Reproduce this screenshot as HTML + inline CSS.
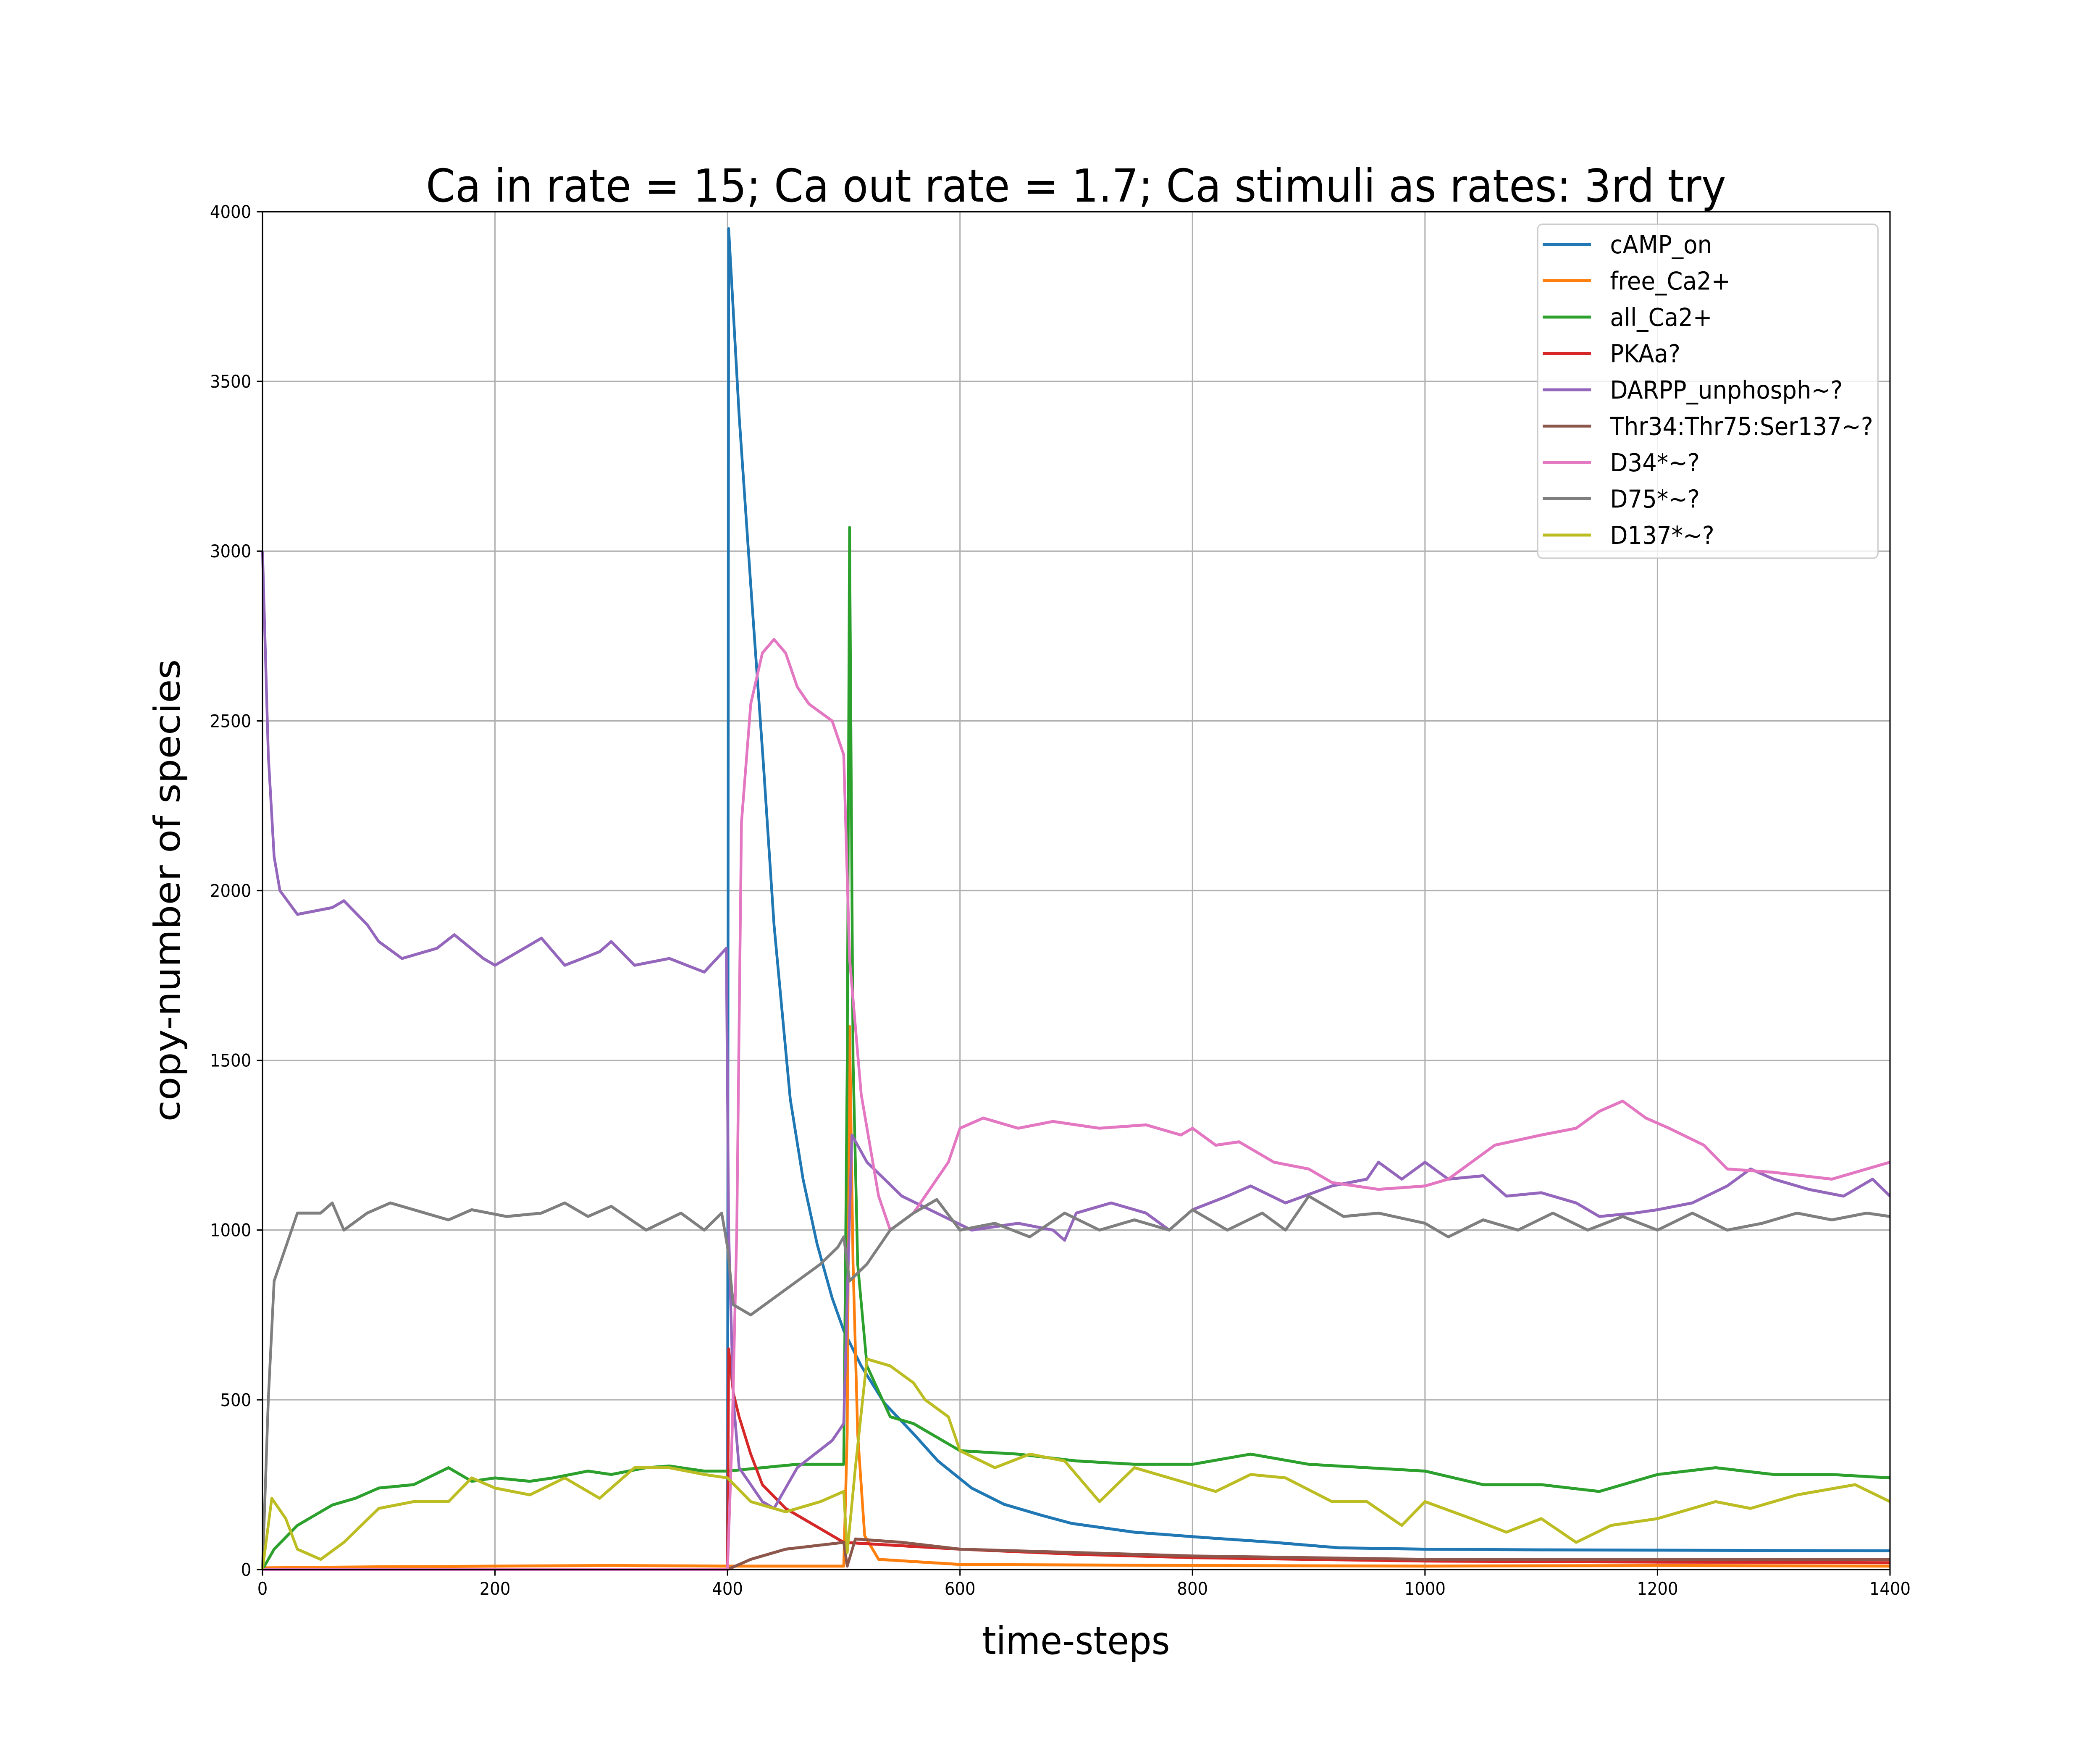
<!DOCTYPE html>
<html><head><meta charset="utf-8"><style>
html,body{margin:0;padding:0;background:#fff;width:100%;height:100%;overflow:hidden}
svg{display:block;font-family:"DejaVu Sans","Liberation Sans",sans-serif;width:100vw;height:100vh}
</style></head><body>
<svg id="chart" viewBox="0 0 5400 4200" preserveAspectRatio="none" xmlns="http://www.w3.org/2000/svg">
<rect width="5400" height="4200" fill="#fff"/>
<text x="2767" y="480" font-size="108" text-anchor="middle">Ca in rate = 15; Ca out rate = 1.7; Ca stimuli as rates: 3rd try</text>
<g id="grid"></g>
<g id="series"></g>
<rect x="675" y="504" width="4185" height="3233" fill="none" stroke="#000" stroke-width="3.3"/>
<g id="ticks"></g>
<text x="2767" y="3938" font-size="91" text-anchor="middle">time-steps</text>
<text transform="translate(462,2120) rotate(-90)" font-size="92" text-anchor="middle">copy-number of species</text>
<g id="legend"></g>
</svg>
<script>
const xTicks=[0,200,400,600,800,1000,1200,1400];
const yTicks=[0,500,1000,1500,2000,2500,3000,3500,4000];
const names=["cAMP_on","free_Ca2+","all_Ca2+","PKAa?","DARPP_unphosph~?","Thr34:Thr75:Ser137~?","D34*~?","D75*~?","D137*~?"];
const colors=["#1f77b4","#ff7f0e","#2ca02c","#d62728","#9467bd","#8c564b","#e377c2","#7f7f7f","#bcbd22"];
const campX=[0,399,400,401,410,420,431,440,454,465,477,490,500,515,535,560,581,610,638,670,696,750,811,870,926,1000,1100,1200,1400];
const campY=[0,0,0,3950,3400,2900,2367,1900,1386,1150,960,800,704,600,490,400,320,240,192,160,136,110,94,80,64,60,58,57,55];
const freeX=[0,100,200,300,400,500,503,505,508,512,518,530,600,800,1000,1200,1400];
const freeY=[5,8,10,12,10,10,400,1600,900,400,100,30,15,12,10,12,10];
const allX=[0,10,30,60,80,100,130,160,180,200,230,250,280,300,330,350,380,400,430,460,500,503,505,508,512,520,540,560,600,650,700,750,800,850,900,950,1000,1050,1100,1150,1200,1250,1300,1350,1400];
const allY=[0,60,130,190,210,240,250,300,260,270,260,270,290,280,300,305,290,290,300,310,310,1500,3070,1500,900,600,450,430,350,340,320,310,310,340,310,300,290,250,250,230,280,300,280,280,270];
const pkaX=[0,399,400,401,405,410,420,430,450,470,500,550,600,700,800,1000,1200,1400];
const pkaY=[0,0,0,650,520,450,340,250,180,140,80,70,60,45,35,25,22,20];
const darX=[0,5,10,15,30,60,70,90,100,120,150,165,190,200,230,240,260,290,300,320,350,380,399,401,405,410,430,440,460,490,500,503,507,520,550,580,610,650,680,690,700,730,760,780,800,830,850,880,920,950,960,980,1000,1020,1050,1070,1100,1130,1150,1180,1200,1230,1260,1280,1300,1330,1360,1385,1400];
const darY=[3000,2400,2100,2000,1930,1950,1970,1900,1850,1800,1830,1870,1800,1780,1840,1860,1780,1820,1850,1780,1800,1760,1830,1000,500,300,200,180,300,380,430,800,1280,1200,1100,1050,1000,1020,1000,970,1050,1080,1050,1000,1060,1100,1130,1080,1130,1150,1200,1150,1200,1150,1160,1100,1110,1080,1040,1050,1060,1080,1130,1180,1150,1120,1100,1150,1100];
const thrX=[0,399,400,420,450,500,503,510,550,600,700,800,900,1000,1200,1400];
const thrY=[0,0,0,30,60,80,10,90,80,60,50,40,35,30,30,30];
const d34X=[0,399,400,404,408,412,420,430,440,450,460,470,490,500,505,515,530,540,560,580,590,600,620,650,680,720,760,790,800,820,840,870,900,920,960,1000,1020,1040,1060,1100,1130,1150,1170,1190,1210,1240,1260,1300,1350,1400];
const d34Y=[0,0,0,400,1000,2200,2550,2700,2740,2700,2600,2550,2500,2400,1800,1400,1100,1000,1050,1150,1200,1300,1330,1300,1320,1300,1310,1280,1300,1250,1260,1200,1180,1140,1120,1130,1150,1200,1250,1280,1300,1350,1380,1330,1300,1250,1180,1170,1150,1200];
const d75X=[0,5,10,20,30,50,60,70,90,110,130,160,180,210,240,260,280,300,330,360,380,395,400,405,420,440,460,480,495,500,505,520,540,560,580,600,630,660,690,720,750,780,800,830,860,880,900,930,960,1000,1020,1050,1080,1110,1140,1170,1200,1230,1260,1290,1320,1350,1380,1400];
const d75Y=[0,500,850,950,1050,1050,1080,1000,1050,1080,1060,1030,1060,1040,1050,1080,1040,1070,1000,1050,1000,1050,950,780,750,800,850,900,950,980,850,900,1000,1050,1090,1000,1020,980,1050,1000,1030,1000,1060,1000,1050,1000,1100,1040,1050,1020,980,1030,1000,1050,1000,1040,1000,1050,1000,1020,1050,1030,1050,1040];
const d137X=[0,8,20,30,50,70,100,130,160,180,200,230,260,290,320,350,380,400,420,450,480,500,503,510,520,540,560,570,590,600,630,660,690,720,750,780,820,850,880,920,950,980,1000,1040,1070,1100,1130,1160,1200,1250,1280,1320,1370,1400];
const d137Y=[0,210,150,60,30,80,180,200,200,270,240,220,270,210,300,300,280,270,200,170,200,230,50,300,620,600,550,500,450,350,300,340,320,200,300,270,230,280,270,200,200,130,200,150,110,150,80,130,150,200,180,220,250,200];
const seriesX=[campX,freeX,allX,pkaX,darX,thrX,d34X,d75X,d137X];
const seriesY=[campY,freeY,allY,pkaY,darY,thrY,d34Y,d75Y,d137Y];
const L=675,R=4860,T=504,B=3737;
const sx=v=>L+(v-0)/(1400-0)*(R-L);
const sy=v=>B-(v-0)/(4000-0)*(B-T);
const NS="http://www.w3.org/2000/svg";
function mk(tag,attrs,parent){const e=document.createElementNS(NS,tag);for(const k in attrs)e.setAttribute(k,attrs[k]);parent.appendChild(e);return e;}
const grid=document.getElementById('grid'),ticks=document.getElementById('ticks');
xTicks.forEach(t=>{
  const g=mk('line',{x1:sx(t),x2:sx(t),y1:T,y2:B,stroke:'#b0b0b0','stroke-width':3.3},grid);
  
  
  const tk=mk('line',{x1:sx(t),x2:sx(t),y1:B,y2:B+14.6,stroke:'#000','stroke-width':3.3},ticks);
  
  
  const tx=mk('text',{x:sx(t),y:B+60,'font-size':41.7,'text-anchor':'middle'},ticks);
  tx.textContent=t;
  
  
});
yTicks.forEach(t=>{
  const g=mk('line',{x1:L,x2:R,y1:sy(t),y2:sy(t),stroke:'#b0b0b0','stroke-width':3.3},grid);
  
  
  const tk=mk('line',{x1:L-14.6,x2:L,y1:sy(t),y2:sy(t),stroke:'#000','stroke-width':3.3},ticks);
  
  
  const tx=mk('text',{x:L-29,y:sy(t)+15,'font-size':41.7,'text-anchor':'end'},ticks);
  tx.textContent=t;
  
  
});
const sg=document.getElementById('series');
seriesX.forEach((xs,i)=>{
  const d=xs.map((x,j)=>(j?'L':'M')+sx(x).toFixed(1)+','+sy(seriesY[i][j]).toFixed(1)).join(' ');
  const p=mk('path',{d:d,fill:'none',stroke:colors[i],'stroke-width':7,'stroke-linejoin':'round'},sg);
  
  
});
const lg=document.getElementById('legend');
const box=mk('rect',{x:3954,y:534,width:875,height:795,rx:12,fill:'#fff','fill-opacity':0.8,stroke:'#ccc','stroke-width':3.3},lg);


names.forEach((n,i)=>{
  const y=582+86.5*i;
  const ln=mk('line',{x1:3967,x2:4091,y1:y,y2:y,stroke:colors[i],'stroke-width':7},lg);
  
  
  const tx=mk('text',{x:4140,y:y+21,'font-size':59},lg);
  tx.textContent=n;
  
  
});
</script>
</body></html>
